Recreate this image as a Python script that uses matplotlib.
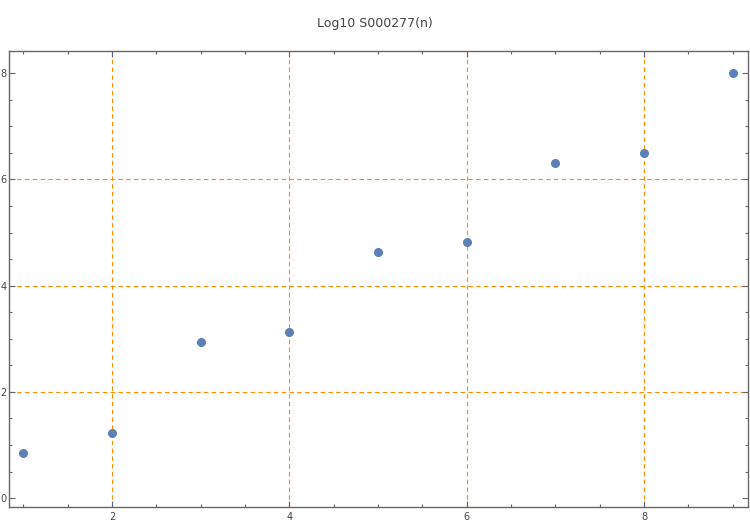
import matplotlib.pyplot as plt
from matplotlib.ticker import MultipleLocator

# --- Data ---
n_values = [1, 2, 3, 4, 5, 6, 7, 8, 9]
log_values = [0.85, 1.22, 2.94, 3.13, 4.63, 4.82, 6.31, 6.50, 8.00]

x_grid = [2, 4, 6, 8]
y_grid = [2, 4, 6]

fig = plt.figure(figsize=(7.5, 5.25), dpi=100)
ax = fig.add_axes([0.012, 0.034, 0.985, 0.869])

for gx in x_grid:
    ax.axvline(gx, color='#ff8c00', linestyle=(0, (4, 3)), linewidth=0.8, zorder=1)
for gy in y_grid:
    ax.axhline(gy, color='#ff8c00', linestyle=(0, (4, 3)), linewidth=0.8, zorder=1)

ax.plot(n_values, log_values, linestyle='none', marker='o', markersize=5.5,
        color='#5e81b5', zorder=3)

ax.set_xlim(0.84, 9.17)
ax.set_ylim(-0.17, 8.42)
ax.xaxis.set_major_locator(MultipleLocator(2))
ax.xaxis.set_minor_locator(MultipleLocator(0.5))
ax.yaxis.set_major_locator(MultipleLocator(2))
ax.yaxis.set_minor_locator(MultipleLocator(0.5))

ax.tick_params(which='both', direction='in', top=True, right=True,
               colors='#666666', labelcolor='#444444', labelsize=7, width=0.8)
ax.tick_params(which='major', length=4)
ax.tick_params(which='minor', length=2.5)
ax.tick_params(axis='y', pad=2)

for spine in ax.spines.values():
    spine.set_color('#666666')
    spine.set_linewidth(1.0)

fig.suptitle('Log10 S000277(n)', y=0.967, fontsize=9, color='#444444')

fig.savefig('out.png', dpi=100)
